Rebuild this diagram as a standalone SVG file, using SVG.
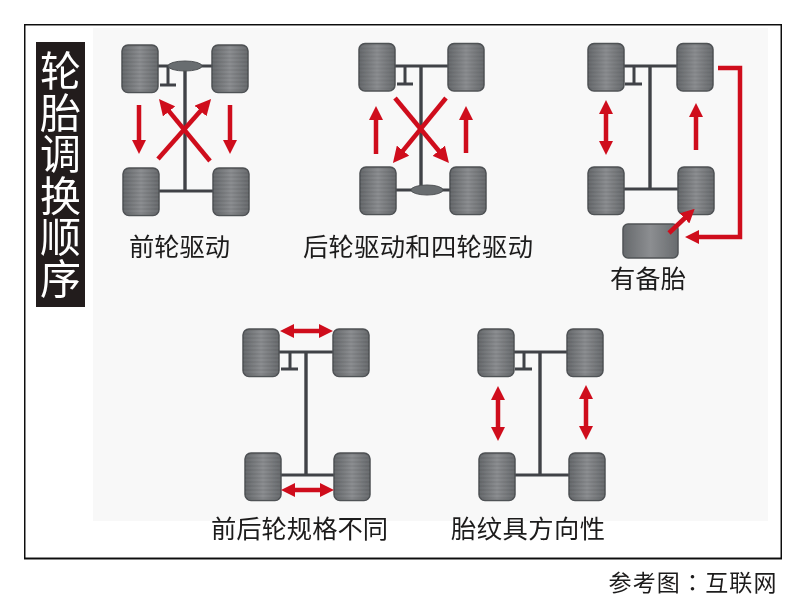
<svg xmlns="http://www.w3.org/2000/svg" width="800" height="607" viewBox="0 0 800 607">
<style>
.tx{font-family:"Noto Sans CJK SC","Liberation Sans",sans-serif;fill:#1c1a1a;text-anchor:middle}
.lb{font-size:25.300px}
.ti{font-family:"Noto Sans CJK SC","Liberation Sans",sans-serif;font-size:41px;fill:#fff;writing-mode:vertical-rl;letter-spacing:.5px}
.ax{stroke:#3f4246;stroke-width:3;fill:none}
.sp{stroke:#3f4246;stroke-width:3.400;fill:none}
.ar{stroke:#cf0f1e;stroke-width:4.500;fill:none}
.x{stroke:#cf0f1e;stroke-width:4.600;fill:none}
.w{stroke:#505356;stroke-width:1.500}
.d{fill:#696d70;stroke:#505356;stroke-width:1}
</style>
<defs>
<filter id="soft" x="0" y="0" width="100%" height="100%"><feGaussianBlur stdDeviation=".45"/></filter>
<linearGradient id="g" x1="0" x2="1" y1="0" y2="0"><stop offset="0" stop-color="#66696c"/><stop offset=".5" stop-color="#8c8e91"/><stop offset="1" stop-color="#686b6e"/></linearGradient>
<pattern id="st" width="4" height="4" patternUnits="userSpaceOnUse"><rect width="4" height="2" fill="#000" fill-opacity=".06"/></pattern>
<marker id="h" viewBox="0 0 14 14" markerWidth="14" markerHeight="14" refX="2" refY="7" orient="auto-start-reverse" markerUnits="userSpaceOnUse"><path d="M0,0L14,7L0,14Z" fill="#cf0f1e"/></marker>
<marker id="h2" viewBox="0 0 14 14" markerWidth="16" markerHeight="16" refX="2" refY="7" orient="auto" markerUnits="userSpaceOnUse"><path d="M0,0L14,7L0,14Z" fill="#cf0f1e"/></marker>
<g id="wh"><rect width="36" height="47.500" rx="6" fill="url(#g)" class="w"/><rect width="36" height="47.500" rx="6" fill="url(#st)"/></g>
</defs>
<rect width="800" height="607" fill="#fff"/>
<g filter="url(#soft)">
<rect x="93" y="28" width="675" height="493" fill="#f8f8f8"/>
<rect x="24.500" y="24.500" width="757" height="534" fill="none" stroke="#111" stroke-width="2"/>
<g id="title"><rect x="36" y="42" width="49" height="265" fill="#231c1c"/>
<text class="ti" x="60.500" y="50">轮胎调换顺序</text></g>
<g id="connectors">
<path class="ax" d="M158,66H212M123,191H213M168,66V85M160,85H176"/><path class="sp" d="M185,66V191"/>
<path class="ax" d="M394,66H448M396,190H450M405,66V84M397,84H413"/><path class="sp" d="M421,66V190"/>
<path class="ax" d="M623,66H677M624,189H678M634,66V84M625,84H642"/><path class="sp" d="M650,66V189"/>
<path class="ax" d="M279,352H333M280,475H334M290,352V369M281,369H298"/><path class="sp" d="M306,352V475"/>
<path class="ax" d="M514,352H567M515,475H569M524,352V369M515,369H532"/><path class="sp" d="M540,352V475"/>
</g>
<g id="car-1"><use href="#wh" x="122" y="45"/><use href="#wh" x="212" y="45"/><use href="#wh" x="123" y="168"/><use href="#wh" x="213" y="168"/><ellipse class="d" cx="185" cy="66" rx="17" ry="5"/></g>
<g id="car-2"><use href="#wh" x="359" y="43.500"/><use href="#wh" x="448" y="43.500"/><use href="#wh" x="360" y="167"/><use href="#wh" x="450" y="167"/><ellipse class="d" cx="427" cy="190" rx="16" ry="5"/></g>
<g id="car-3"><use href="#wh" x="588" y="43.500"/><use href="#wh" x="677" y="43.500"/><use href="#wh" x="588" y="167"/><use href="#wh" x="678" y="167"/><rect id="spare" x="623" y="224" width="55" height="34" rx="5" fill="url(#g)" class="w"/></g>
<g id="car-4"><use href="#wh" x="243" y="329"/><use href="#wh" x="333" y="329"/><use href="#wh" x="245" y="453"/><use href="#wh" x="334" y="453"/></g>
<g id="car-5"><use href="#wh" x="478" y="329"/><use href="#wh" x="567" y="329"/><use href="#wh" x="479" y="453"/><use href="#wh" x="569" y="453"/></g>
<g id="arrows">
<path class="ar" marker-end="url(#h)" d="M139,105V142"/><path class="ar" marker-end="url(#h)" d="M230,105V142"/>
<path class="x" marker-end="url(#h2)" d="M158,159L202,109.300"/><path class="x" marker-end="url(#h2)" d="M210,161L167.700,109.600"/>
<path class="ar" marker-end="url(#h)" d="M376,154V118"/><path class="ar" marker-end="url(#h)" d="M466,153V118"/>
<path class="x" marker-end="url(#h2)" d="M446,98L401.600,152.400"/><path class="x" marker-end="url(#h2)" d="M395,98L440.200,152.500"/>
<path class="ar" marker-start="url(#h)" marker-end="url(#h)" d="M606,112V143"/><path class="ar" marker-end="url(#h)" d="M696,150V115"/>
<path class="ar" stroke-width="4" marker-end="url(#h)" d="M718,68H740V237H697"/><path class="x" marker-end="url(#h)" d="M669,233L686,217"/>
<path class="ar" marker-start="url(#h)" marker-end="url(#h)" d="M292,331H321"/><path class="ar" marker-start="url(#h)" marker-end="url(#h)" d="M293,490H322"/>
<path class="ar" marker-start="url(#h)" marker-end="url(#h)" d="M498,398V429"/><path class="ar" marker-start="url(#h)" marker-end="url(#h)" d="M586,397V428"/>
</g>
<g id="labels">
<text class="tx lb" x="179.500" y="256">前轮驱动</text>
<text class="tx lb" x="418" y="256" textLength="230" lengthAdjust="spacing">后轮驱动和四轮驱动</text>
<text class="tx lb" x="648" y="288">有备胎</text>
<text class="tx lb" x="299.500" y="538">前后轮规格不同</text>
<text class="tx lb" x="528" y="538" textLength="154" lengthAdjust="spacing">胎纹具方向性</text>
<text class="tx" x="692.500" y="591" font-size="23" textLength="168" lengthAdjust="spacing" style="font-family:'Noto Sans CJK TC',sans-serif">参考图：互联网</text>
</g>
</g>
</svg>
